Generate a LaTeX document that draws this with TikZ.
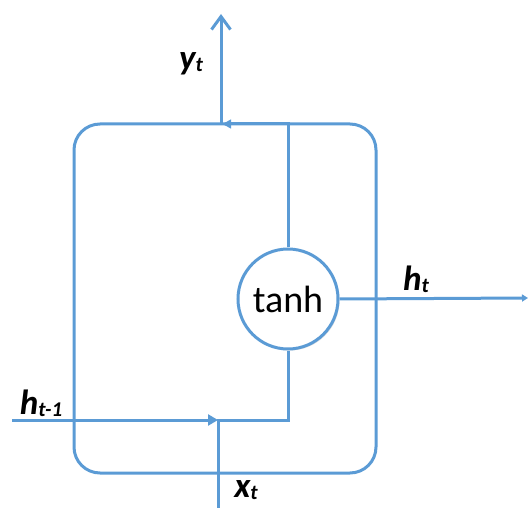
\documentclass[tikz,border=0pt]{standalone}
\usepackage{fontspec}
\setmainfont{Carlito}
\usetikzlibrary{arrows.meta,shadows}
\definecolor{cellblue}{HTML}{5B9BD5}
\tikzset{
  wire/.style={draw=cellblue, line width=3pt},
  lbl/.style={font=\fontsize{35}{38}\selectfont\bfseries\itshape, inner sep=0pt},
}
\newcommand{\lblsub}[1]{\raisebox{-2pt}{\fontsize{21}{22}\selectfont #1}}
\begin{document}
\begin{tikzpicture}[x=1pt,y=-1pt]
  \useasboundingbox (0,0) rectangle (528,508);
  % cell
  \draw[wire, rounded corners=26pt] (74,124) rectangle (376,473);
  \node[circle, draw=cellblue, line width=3pt, fill=white, minimum size=100pt, inner sep=0pt,
        font=\fontsize{38}{42}\selectfont,
        drop shadow={opacity=0.25, shadow xshift=1.5pt, shadow yshift=-1.5pt}] (tanh) at (288,299) {tanh};
  \coordinate (yout) at (221,14);
  \coordinate (ytop) at (221,124);
  \coordinate (ttop) at (288,124);
  \coordinate (hin)  at (12,420);
  \coordinate (join) at (218,420);
  \coordinate (tbot) at (288,420);
  \coordinate (xin)  at (218,508);
  \coordinate (hout) at (528,298);
  % connectors
  \draw[wire, -{Latex[length=10pt,width=10pt]}] (tanh.north) -- (ttop) -- (ytop);
  \draw[wire, -{Straight Barb[length=13pt,width=19pt]}] (ytop) -- (yout);
  \draw[wire, -{Triangle[length=10pt,width=11pt]}] (hin) -- (join);
  \draw[wire] (xin) -- (join) -- (tbot) -- (tanh.south);
  \draw[wire, -{Triangle[length=6pt,width=7pt]}] (tanh.east) -- (hout);
  % labels
  \node[lbl] (ylab) at (191,64) {y\lblsub{t}};
  \node[lbl] (hlab) at (416,279) {h\lblsub{t}};
  \node[lbl] (hprev) at (41,403) {h\lblsub{t-1}};
  \node[lbl] (xlab) at (246,490) {x\lblsub{t}};
\end{tikzpicture}
\end{document}
